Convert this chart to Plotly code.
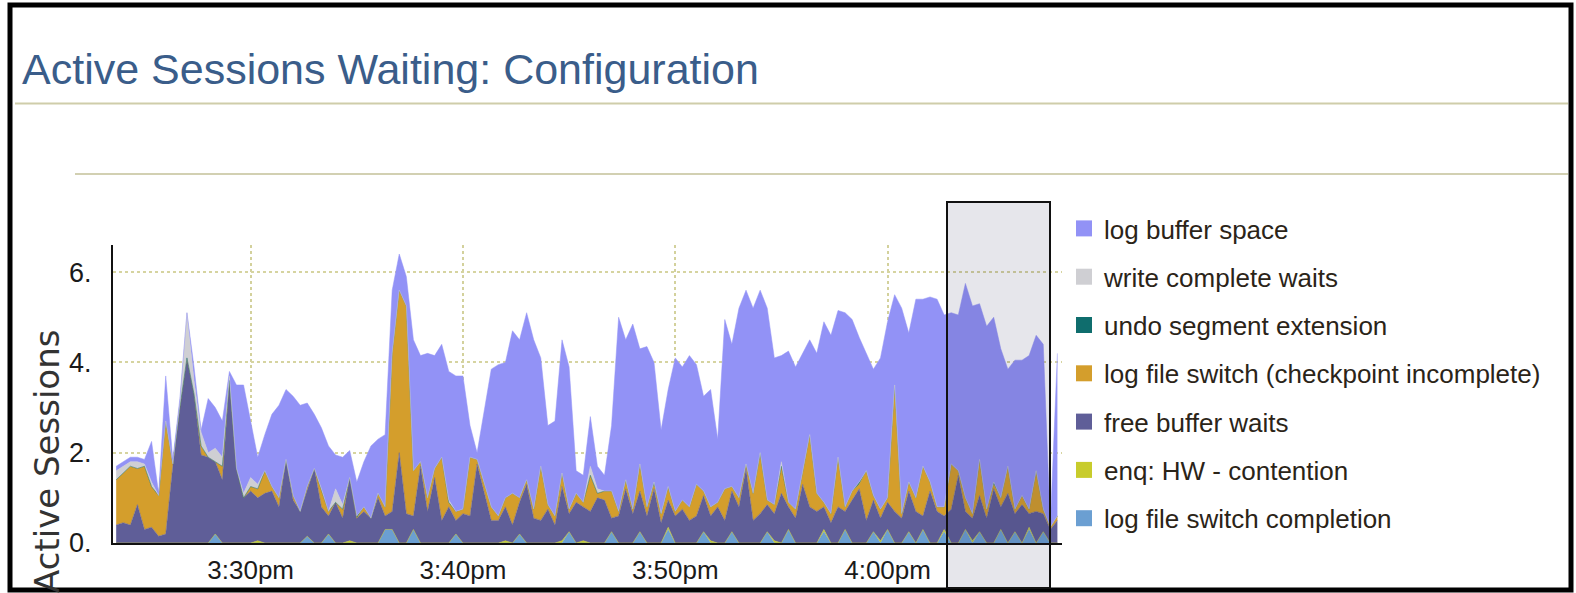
import plotly.graph_objects as go
import pandas as pd

# ---------------- data ----------------
START = "2009-06-15 15:23:40"
STEP = "20s"
N_POINTS = 134
times = pd.date_range(START, periods=N_POINTS, freq=STEP)

tick_vals = ["2009-06-15 15:30:00", "2009-06-15 15:40:00", "2009-06-15 15:50:00", "2009-06-15 16:00:00"]
tick_text = ["3:30pm", "3:40pm", "3:50pm", "4:00pm"]
y_tick_vals = [0, 2, 4, 6]
y_tick_text = ["0.", "2.", "4.", "6."]

log_file_switch_completion = [
    0, 0, 0, 0, 0, 0, 0, 0, 0, 0,
    0, 0, 0, 0, 0.2, 0, 0, 0, 0, 0,
    0, 0, 0, 0, 0, 0, 0, 0.15, 0, 0,
    0.2, 0, 0, 0, 0, 0, 0, 0, 0.3, 0.3,
    0, 0, 0.3, 0, 0, 0, 0, 0, 0.2, 0,
    0, 0, 0, 0, 0, 0, 0, 0.2, 0, 0,
    0, 0, 0, 0, 0.25, 0, 0, 0, 0, 0,
    0.25, 0, 0, 0, 0.25, 0, 0, 0, 0.3, 0,
    0, 0, 0, 0.25, 0, 0, 0, 0.25, 0, 0,
    0, 0, 0.25, 0, 0, 0.3, 0, 0, 0, 0,
    0.25, 0, 0, 0.3, 0, 0, 0, 0.25, 0, 0.3,
    0, 0, 0.25, 0, 0.3, 0, 0, 0.25, 0, 0,
    0.3, 0, 0.25, 0, 0, 0.3, 0, 0.25, 0, 0.3,
    0, 0.25, 0, 0,
]

enq_hw_contention = [
    0, 0, 0, 0, 0, 0, 0, 0, 0, 0,
    0, 0, 0, 0, 0, 0, 0, 0, 0, 0,
    0.05, 0, 0, 0, 0, 0, 0, 0, 0, 0,
    0, 0, 0, 0.05, 0, 0, 0, 0, 0, 0,
    0, 0, 0, 0, 0, 0, 0, 0, 0, 0,
    0, 0, 0, 0, 0, 0.05, 0, 0, 0, 0,
    0, 0, 0, 0.05, 0, 0, 0.05, 0, 0, 0,
    0, 0, 0, 0, 0, 0, 0, 0, 0.05, 0,
    0, 0, 0, 0, 0.05, 0, 0, 0, 0, 0,
    0, 0, 0, 0.05, 0, 0, 0, 0, 0, 0,
    0.05, 0, 0, 0, 0, 0, 0, 0, 0.05, 0,
    0, 0, 0, 0, 0, 0, 0, 0.05, 0, 0,
    0, 0.05, 0, 0, 0, 0, 0, 0, 0, 0.05,
    0, 0, 0, 0,
]

free_buffer_waits = [
    0.4, 0.45, 0.4, 0.85, 0.3, 0.35, 0.15, 0.2, 1.7, 3.0,
    4.1, 3.3, 1.95, 1.9, 1.6, 1.4, 3.6, 1.65, 1.0, 1.15,
    0.95, 1.1, 1.15, 0.8, 1.85, 0.95, 0.7, 1.0, 1.65, 0.8,
    0.4, 0.9, 0.55, 1.4, 0.55, 0.7, 0.55, 1.0, 0.3, 0.4,
    2.0, 0.65, 0.3, 1.7, 0.7, 1.45, 0.5, 0.8, 0.3, 0.65,
    0.6, 1.75, 1.1, 0.5, 0.5, 0.75, 0.4, 0.7, 1.3, 0.55,
    0.5, 0.75, 0.4, 1.2, 0.4, 0.9, 0.75, 0.7, 1.0, 0.95,
    0.3, 0.6, 1.2, 0.65, 0.9, 0.6, 1.2, 0.45, 0.6, 0.6,
    0.75, 0.5, 0.6, 0.8, 0.55, 0.8, 0.5, 0.9, 0.8, 1.65,
    0.5, 0.65, 0.6, 0.6, 1.1, 0.5, 0.55, 1.3, 0.8, 0.7,
    0.5, 0.45, 0.8, 0.4, 0.95, 1.2, 0.5, 0.7, 0.5, 0.6,
    0.7, 0.55, 0.9, 0.7, 0.3, 1.15, 0.7, 0.3, 0.75, 1.5,
    0.4, 0.5, 0.8, 0.55, 1.2, 0.5, 1.1, 0.4, 0.85, 0.3,
    0.7, 0.4, 0.3, 0.5,
]

log_file_switch_checkpoint = [
    1.0, 1.1, 1.3, 0.8, 1.4, 0.9, 0.9, 2.5, 0.05, 0,
    0, 0, 0.2, 0, 0, 0.3, 0, 0, 0, 0.1,
    0.2, 0.5, 0.1, 0.2, 0, 0.1, 0, 0.1, 0, 0.4,
    0.1, 0, 0.2, 0, 0, 0.1, 0, 0.1, 0.2, 3.5,
    3.6, 4.6, 1.0, 0.1, 0.3, 0.2, 1.4, 0.1, 0.2, 0.1,
    1.3, 0.1, 0.2, 0.3, 0.1, 0.2, 0.7, 0.1, 0.1, 0.2,
    1.2, 0.1, 0.2, 0.3, 0.1, 0.2, 0.1, 0.8, 0.1, 0.2,
    0.6, 0.1, 0.2, 0.1, 0.6, 0.2, 0.1, 0.2, 0.3, 0.1,
    0.2, 0.3, 0.7, 0.1, 0.2, 0.1, 0.7, 0.1, 0.2, 0.1,
    0.6, 1.3, 0.1, 0.2, 0.6, 0.1, 0.2, 0.3, 1.6, 0.4,
    0.1, 0.2, 1.1, 0.1, 0.2, 0.1, 1.1, 0.1, 0.2, 0.1,
    2.8, 0.1, 0.2, 0.3, 1.1, 0.2, 0.1, 0.2, 1.0, 0.1,
    0.3, 0.1, 0.8, 0.2, 0.1, 0.2, 0.6, 0.1, 0.2, 0.1,
    0.9, 0.1, 0.05, 0.1,
]

undo_segment_extension = [
    0, 0, 0, 0, 0, 0, 0, 0, 0, 0,
    0, 0, 0, 0, 0, 0, 0, 0, 0, 0,
    0, 0, 0, 0, 0, 0, 0, 0, 0, 0,
    0, 0, 0, 0, 0.05, 0, 0, 0, 0, 0,
    0, 0, 0, 0, 0, 0, 0, 0, 0, 0,
    0, 0, 0.05, 0, 0, 0, 0, 0, 0, 0,
    0, 0, 0, 0, 0, 0, 0, 0, 0, 0,
    0, 0, 0, 0, 0, 0, 0.05, 0, 0, 0,
    0, 0, 0, 0, 0, 0, 0, 0, 0, 0,
    0, 0.05, 0, 0, 0, 0, 0, 0, 0, 0,
    0, 0, 0, 0, 0, 0.05, 0, 0, 0, 0,
    0, 0, 0, 0, 0, 0, 0, 0, 0, 0,
    0, 0, 0, 0, 0.05, 0, 0, 0, 0, 0,
    0, 0, 0, 0,
]

write_complete_waits = [
    0.2, 0.15, 0.1, 0.15, 0.05, 0.1, 0, 0, 0, 0.1,
    1.0, 0.3, 0.3, 0.1, 0.3, 0.2, 0.1, 0, 0.1, 0.2,
    0.1, 0, 0, 0, 0, 0, 0, 0, 0, 0,
    0, 0.3, 0.1, 0, 0, 0, 0, 0, 0, 0,
    0, 0, 0, 0, 0, 0, 0, 0.05, 0, 0,
    0, 0, 0, 0, 0, 0, 0, 0, 0, 0,
    0, 0, 0, 0, 0, 0, 0, 0.2, 0.1, 0,
    0, 0, 0, 0, 0, 0, 0, 0, 0, 0,
    0, 0, 0, 0, 0, 0, 0, 0, 0, 0,
    0, 0, 0, 0, 0.1, 0, 0, 0, 0, 0,
    0, 0, 0, 0, 0, 0, 0, 0, 0, 0,
    0, 0, 0, 0, 0, 0, 0, 0, 0, 0,
    0, 0, 0, 0, 0, 0, 0, 0, 0, 0,
    0, 0, 0, 0,
]

log_buffer_space = [
    0.1, 0.1, 0.1, 0.1, 0.1, 0.9, 0.05, 1.0, 0.1, 0.1,
    0, 0.3, 0.05, 1.2, 0.9, 0.8, 0.1, 1.85, 2.4, 1.25,
    0.6, 0.8, 1.6, 2.05, 1.55, 2.2, 2.35, 1.85, 1.2, 1.35,
    1.45, 0.75, 1.05, 0.6, 0.75, 1.0, 1.6, 1.2, 1.6, 1.4,
    0.8, 0.65, 2.9, 2.35, 3.2, 2.5, 2.5, 2.85, 3.0, 2.95,
    0.7, 0.15, 1.55, 3.05, 3.35, 3.0, 3.6, 3.5, 3.7, 3.75,
    2.4, 1.75, 2.1, 2.95, 3.15, 0.5, 0.6, 1.1, 0.5, 0.35,
    1.45, 4.3, 3.1, 4.1, 2.55, 3.55, 2.65, 1.85, 2.15, 3.4,
    2.95, 3.35, 2.65, 2.1, 2.6, 1.4, 3.75, 3.15, 4.2, 3.85,
    4.1, 3.6, 4.25, 3.25, 2.35, 3.35, 3.15, 2.6, 2.1, 3.1,
    4.0, 3.95, 3.25, 4.3, 3.8, 3.2, 2.6, 2.8, 3.35, 3.9,
    2.0, 4.55, 3.3, 4.4, 3.7, 4.1, 4.6, 4.25, 3.35, 3.45,
    4.75, 4.6, 3.45, 4.05, 3.65, 3.3, 2.15, 3.3, 3.0, 3.4,
    3.0, 3.65, 0.05, 3.6,
]

# bottom -> top stacking order
stack = [
    ("log file switch completion", log_file_switch_completion, "#6b9fd2"),
    ("enq: HW - contention", enq_hw_contention, "#c8cc2c"),
    ("free buffer waits", free_buffer_waits, "#5f5e98"),
    ("log file switch (checkpoint incomplete)", log_file_switch_checkpoint, "#d49e2c"),
    ("undo segment extension", undo_segment_extension, "#0f6d6d"),
    ("write complete waits", write_complete_waits, "#cfcfd3"),
    ("log buffer space", log_buffer_space, "#9292f6"),
]

# ---------------- geometry ----------------
W, H = 1576, 593
PL, PR, PT, PB = 113, 1062, 245, 543


def fx(px):
    return (px - PL) / (PR - PL)


def fy(py):
    return (PB - py) / (PB - PT)


SANS = "Liberation Sans, Arial, sans-serif"

fig = go.Figure()

for name, vals, col in stack:
    fig.add_trace(go.Scatter(
        x=times, y=vals, name=name, mode="lines", stackgroup="one",
        line=dict(width=0.5, color=col), fillcolor=col, showlegend=False,
        hoverinfo="x+y+name",
    ))

# legend entries (top -> bottom as in reference)
for k, (name, vals, col) in enumerate(reversed(stack)):
    fig.add_trace(go.Scatter(
        x=[None], y=[None], name=name, mode="markers",
        marker=dict(symbol="square", size=16, color=col),
        legendgroup=f"g{k}", showlegend=True,
    ))

shapes = [
    # outer frame
    dict(type="rect", xref="paper", yref="paper", x0=fx(10), x1=fx(1571), y0=fy(590), y1=fy(5),
         line=dict(color="black", width=5), fillcolor="rgba(0,0,0,0)", layer="above"),
    # header rules
    dict(type="line", xref="paper", yref="paper", x0=fx(15), x1=fx(1568), y0=fy(103.5), y1=fy(103.5),
         line=dict(color="#cfcdaa", width=2)),
    dict(type="line", xref="paper", yref="paper", x0=fx(75), x1=fx(1568), y0=fy(174), y1=fy(174),
         line=dict(color="#d2d0b2", width=2)),
    # selection window
    dict(type="rect", xref="paper", yref="paper", x0=fx(947), x1=fx(1050), y0=fy(588), y1=fy(202),
         line=dict(color="#111111", width=2), fillcolor="rgba(30,30,70,0.11)", layer="above"),
]

annotations = [
    dict(text="Active Sessions Waiting: Configuration", xref="paper", yref="paper",
         x=fx(20), y=fy(69), xanchor="left", yanchor="middle", showarrow=False,
         font=dict(family=SANS, size=43, color="#3a5d8a")),
    dict(text="Active Sessions", xref="paper", yref="paper", x=fx(47), y=fy(462),
         xanchor="center", yanchor="middle", textangle=-90, showarrow=False,
         font=dict(family="DejaVu Sans, Verdana, sans-serif", size=34, color="#333333")),
]

fig.update_layout(
    width=W, height=H, autosize=False,
    margin=dict(l=PL, r=W - PR, t=PT, b=H - PB, pad=0, autoexpand=False),
    paper_bgcolor="white", plot_bgcolor="white",
    shapes=shapes, annotations=annotations,
    hovermode="x",
    legend=dict(
        x=fx(1064), y=fy(205), xanchor="left", yanchor="top",
        traceorder="grouped", tracegroupgap=11.5, maxheight=420,
        font=dict(family=SANS, size=26, color="#2b2418"),
        bgcolor="rgba(0,0,0,0)",
    ),
    xaxis=dict(
        type="date",
        range=["2009-06-15 15:23:31", "2009-06-15 16:08:13"],
        tickvals=tick_vals, ticktext=tick_text,
        showline=True, linecolor="#111111", linewidth=2,
        showgrid=True, gridcolor="#d3d19c", griddash="dot", gridwidth=2,
        ticks="", zeroline=False, ticklabelstandoff=3,
        tickfont=dict(family=SANS, size=26, color="#1a1a1a"),
    ),
    yaxis=dict(
        range=[0, 6.6],
        tickvals=y_tick_vals, ticktext=y_tick_text,
        showline=True, linecolor="#111111", linewidth=2,
        showgrid=True, gridcolor="#d6d4a0", griddash="dot", gridwidth=2,
        ticks="", zeroline=False, ticklabelstandoff=14,
        tickfont=dict(family=SANS, size=27, color="#1a1a1a"),
    ),
)

fig.write_html(
    "out.html",
    config={"displayModeBar": False},
    post_script="document.body.style.margin='0';document.body.style.overflow='hidden';",
)
